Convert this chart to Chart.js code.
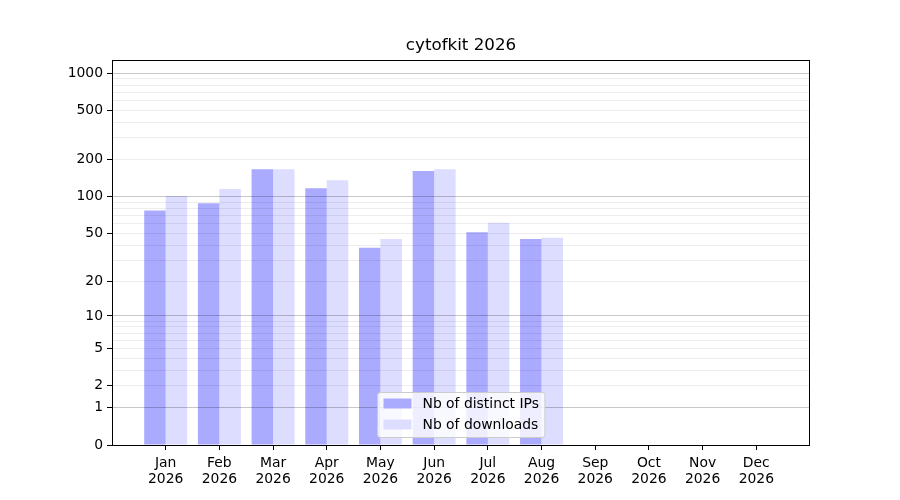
<!DOCTYPE html>
<html>
<head>
<meta charset="utf-8">
<script src="https://cdn.jsdelivr.net/npm/chart.js@4.4.1/dist/chart.umd.min.js"></script>
<style>
  body { margin: 0; background: #fff; }
  #wrap { width: 900px; height: 500px; }
</style>
</head>
<body>
<div id="wrap"><canvas id="myCanvas" width="900" height="500"></canvas></div>
<script>
'use strict';

// chart data

const months = ['Jan', 'Feb', 'Mar', 'Apr', 'May', 'Jun', 'Jul', 'Aug', 'Sep', 'Oct', 'Nov', 'Dec'];
const yearLabel = '2026';
const distinctIPs = [77, 88, 167, 117, 38, 161, 51, 45, 0, 0, 0, 0];
const downloads = [101, 115, 167, 136, 45, 167, 61, 46, 0, 0, 0, 0];

// y axis ticks (log10(1 + x) scale)
const yLabelTicks = [0, 1, 2, 5, 10, 20, 50, 100, 200, 500, 1000];
const yMajorGrid = [1, 10, 100, 1000];
const yGridTicks = [0, 1, 2, 3, 4, 5, 6, 7, 8, 9, 10, 20, 30, 40, 50, 60, 70, 80, 90,
  100, 200, 300, 400, 500, 600, 700, 800, 900, 1000];
const yMax = 1274;

const fontFamily = '"DejaVu Sans", sans-serif';

// scale that puts values on log10(1 + x)

class Log1pScale extends Chart.LinearScale {
  static id = 'log1p';
  static defaults = {};

  buildTicks() {
    return yGridTicks.map(v => ({ value: v }));
  }

  getPixelForValue(value) {
    const lo = Math.log10(1 + this.min);
    const hi = Math.log10(1 + this.max);
    return this.getPixelForDecimal((Math.log10(1 + value) - lo) / (hi - lo));
  }

  getValueForPixel(pixel) {
    const lo = Math.log10(1 + this.min);
    const hi = Math.log10(1 + this.max);
    return Math.pow(10, lo + this.getDecimalForPixel(pixel) * (hi - lo)) - 1;
  }
}
Chart.register(Log1pScale);

// frame round the plot and the legend in the lower centre

const framePlugin = {
  id: 'frame',
  afterDraw(chart) {
    const ctx = chart.ctx;
    const area = chart.chartArea;
    ctx.save();
    ctx.strokeStyle = '#000';
    ctx.lineWidth = 1;
    ctx.strokeRect(Math.round(area.left) + 0.5, Math.round(area.top) + 0.5,
      Math.round(area.right - area.left) - 1, Math.round(area.bottom - area.top));

    // legend
    ctx.font = '13.9px ' + fontFamily;
    let textW = 0;
    chart.data.datasets.forEach(ds => {
      textW = Math.max(textW, ctx.measureText(ds.label).width);
    });
    const w = 6 + 28 + 11 + textW + 6;
    const h = 45;
    const x = Math.round((area.left + area.right) / 2 - w / 2) + 0.5;
    const y = Math.round(area.bottom - 8 - h) + 0.5;
    ctx.beginPath();
    ctx.roundRect(x, y, w, h, 3);
    ctx.fillStyle = 'rgba(255,255,255,0.8)';
    ctx.fill();
    ctx.strokeStyle = '#cccccc';
    ctx.stroke();
    chart.data.datasets.forEach((ds, i) => {
      const rowY = y + 12 + i * 21;
      ctx.fillStyle = ds.backgroundColor;
      ctx.fillRect(x + 6, rowY - 6, 28, 10);
      ctx.fillStyle = '#000';
      ctx.textBaseline = 'middle';
      ctx.textAlign = 'left';
      ctx.fillText(ds.label, x + 45, rowY);
    });
    ctx.restore();
  }
};

const data = {
  datasets: [{
    label: 'Nb of distinct IPs',
    data: distinctIPs.map((v, i) => ({ x: i, y: v })),
    backgroundColor: '#aaaaff',
    borderWidth: 0,
    categoryPercentage: 0.8,
    barPercentage: 1.0
  },
  {
    label: 'Nb of downloads',
    data: downloads.map((v, i) => ({ x: i, y: v })),
    backgroundColor: '#ddddff',
    borderWidth: 0,
    categoryPercentage: 0.8,
    barPercentage: 1.0
  }]
};

const config = {
  type: 'bar',
  data: data,
  options: {
    responsive: false,
    animation: false,
    layout: { padding: { left: 0, right: 90, top: 0, bottom: 0 } },
    plugins: {
      legend: { display: false },
      tooltip: { enabled: false },
      title: {
        display: true,
        fullSize: false,
        text: 'cytofkit 2026',
        color: '#000',
        font: { family: fontFamily, size: 16.7, weight: 'normal' },
        padding: { top: 36, bottom: 4 }
      }
    },
    scales: {
      x: {
        type: 'linear',
        min: -1,
        max: 12,
        offset: false,
        afterBuildTicks: scale => {
          scale.ticks = months.map((m, i) => ({ value: i }));
        },
        afterFit: scale => { scale.height = 55; },
        ticks: {
          autoSkip: false,
          maxRotation: 0,
          padding: 6,
          color: '#000',
          font: { family: fontFamily, size: 13.9, lineHeight: 1.1 },
          callback: v => [months[v], yearLabel]
        },
        grid: { offset: false, drawOnChartArea: false, tickLength: 5, color: '#000' },
        border: { display: false }
      },
      y: {
        type: 'log1p',
        min: 0,
        max: yMax,
        afterFit: scale => { scale.width = 112; },
        ticks: {
          autoSkip: false,
          padding: 4,
          color: '#000',
          font: { family: fontFamily, size: 13.9 },
          callback: v => yLabelTicks.includes(v) ? String(v) : ''
        },
        grid: {
          z: 1,
          tickLength: 5,
          color: c => {
            const v = c.tick ? c.tick.value : 0;
            if (v === 0) return 'rgba(0,0,0,0)';
            return yMajorGrid.includes(v) ? 'rgba(0,0,0,0.22)' : 'rgba(0,0,0,0.07)';
          },
          tickColor: c => (c.tick && yLabelTicks.includes(c.tick.value)) ? '#000' : 'rgba(0,0,0,0)'
        },
        border: { display: false }
      }
    }
  },
  plugins: [framePlugin]
};

const chart = document.getElementById('myCanvas');
const myChart = new Chart(chart, config);
</script>
</body>
</html>
